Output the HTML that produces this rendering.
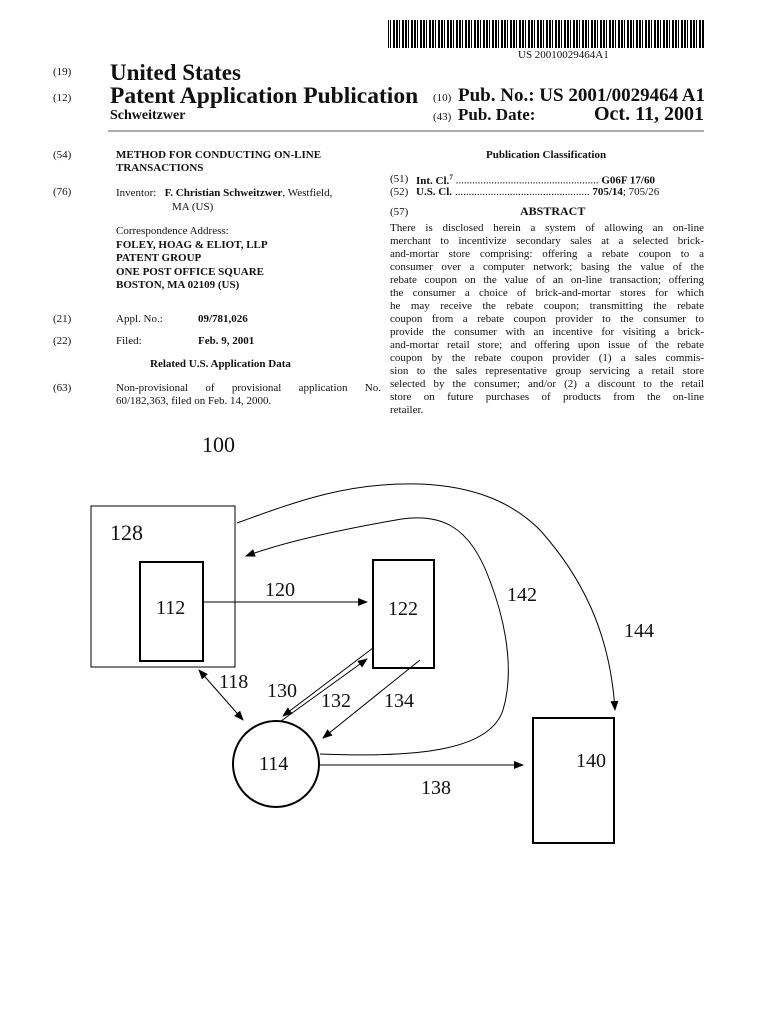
<!DOCTYPE html>
<html><head><meta charset="utf-8"><style>
body{margin:0;width:770px;height:1024px;background:#fff;position:relative;overflow:hidden;font-family:"Liberation Serif",serif;color:#111}
.a{position:absolute;white-space:nowrap}
.s{font-size:11px}
.j{position:absolute;left:390px;width:314px;font-size:11px;text-align:justify;text-align-last:justify;white-space:nowrap;height:12px;line-height:12px}
b{font-weight:bold}
</style></head><body>
<svg class="a" style="left:0;top:0" width="770" height="1024">
<g fill="#000">
<rect x="388" y="20" width="316" height="28" fill="url(#bc)"/>
</g>
<defs><pattern id="bc" width="9" height="28" patternUnits="userSpaceOnUse"><rect x="0" width="2" height="28" fill="#000"/><rect x="3" width="1" height="28" fill="#000"/><rect x="6" width="2" height="28" fill="#000"/></pattern>
<marker id="ar" markerWidth="10" markerHeight="8" refX="9" refY="4" orient="auto" markerUnits="userSpaceOnUse"><path d="M0,0 L10,4 L0,8 z" fill="#000"/></marker>
<marker id="as" markerWidth="10" markerHeight="8" refX="1" refY="4" orient="auto" markerUnits="userSpaceOnUse"><path d="M10,0 L0,4 L10,8 z" fill="#000"/></marker></defs>
<line x1="108" y1="131" x2="704" y2="131" stroke="#555" stroke-width="1"/>
<g fill="none" stroke="#000">
<rect x="91" y="506" width="144" height="161" stroke-width="1"/>
<rect x="140" y="562" width="63" height="99" stroke-width="2"/>
<rect x="373" y="560" width="61" height="108" stroke-width="2"/>
<circle cx="276" cy="764" r="43" stroke-width="2"/>
<rect x="533" y="718" width="81" height="125" stroke-width="2"/>
<line x1="204" y1="602" x2="367" y2="602" marker-end="url(#ar)"/>
<line x1="199" y1="670" x2="243" y2="720" marker-end="url(#ar)" marker-start="url(#as)"/>
<line x1="373" y1="648" x2="283" y2="716" marker-end="url(#ar)"/>
<line x1="281" y1="721" x2="367" y2="659" marker-end="url(#ar)"/>
<line x1="420" y1="660" x2="323" y2="738" marker-end="url(#ar)"/>
<line x1="320" y1="765" x2="523" y2="765" marker-end="url(#ar)"/>
<path d="M237,523 C300,500 350,482 420,484 C470,486 510,500 540,530 C580,575 610,630 615,710" marker-end="url(#ar)"/>
<path d="M320,754 C420,758 490,750 503,710 C515,670 505,620 490,581 C470,525 440,512 396,520 C350,528 290,540 246,556" marker-end="url(#ar)"/>
</g>
</svg>
<div class="a" style="left:518px;top:49px;font-size:11px">US 20010029464A1</div>
<div class="a" style="left:53px;top:66px;font-size:11px">(19)</div>
<div class="a" style="left:110px;top:60px;font-size:23px;font-weight:bold">United States</div>
<div class="a" style="left:53px;top:92px;font-size:11px">(12)</div>
<div class="a" style="left:110px;top:83px;font-size:23.5px;font-weight:bold">Patent Application Publication</div>
<div class="a" style="left:433px;top:92px;font-size:11px">(10)</div>
<div class="a" style="left:458px;top:85px;font-size:19px;font-weight:bold">Pub. No.: US 2001/0029464 A1</div>
<div class="a" style="left:110px;top:108px;font-size:14px;font-weight:bold">Schweitzwer</div>
<div class="a" style="left:433px;top:111px;font-size:11px">(43)</div>
<div class="a" style="left:458px;top:105px;font-size:17px;font-weight:bold">Pub. Date:</div>
<div class="a" style="left:594px;top:103px;font-size:20px;font-weight:bold">Oct. 11, 2001</div>

<div class="a s" style="left:53px;top:149px">(54)</div>
<div class="a s" style="left:116px;top:149px;line-height:13px"><b>METHOD FOR CONDUCTING ON-LINE<br>TRANSACTIONS</b></div>
<div class="a s" style="left:53px;top:186px">(76)</div>
<div class="a s" style="left:116px;top:186px;line-height:14px">Inventor:&nbsp;&nbsp; <b>F. Christian Schweitzwer</b>, Westfield,<br><span style="padding-left:56px">MA (US)</span></div>
<div class="a s" style="left:116px;top:225px;line-height:13.5px">Correspondence Address:<br><b>FOLEY, HOAG &amp; ELIOT, LLP<br>PATENT GROUP<br>ONE POST OFFICE SQUARE<br>BOSTON, MA 02109 (US)</b></div>
<div class="a s" style="left:53px;top:313px">(21)</div>
<div class="a s" style="left:116px;top:313px">Appl. No.:</div>
<div class="a s" style="left:198px;top:313px"><b>09/781,026</b></div>
<div class="a s" style="left:53px;top:335px">(22)</div>
<div class="a s" style="left:116px;top:335px">Filed:</div>
<div class="a s" style="left:198px;top:335px"><b>Feb. 9, 2001</b></div>
<div class="a s" style="left:150px;top:358px"><b>Related U.S. Application Data</b></div>
<div class="a s" style="left:53px;top:382px">(63)</div>
<div class="a s" style="left:116px;top:382px;width:265px;text-align:justify;text-align-last:justify">Non-provisional of provisional application No.</div>
<div class="a s" style="left:116px;top:395px">60/182,363, filed on Feb. 14, 2000.</div>

<div class="a s" style="left:486px;top:149px"><b>Publication Classification</b></div>
<div class="a s" style="left:390px;top:173px">(51)</div>
<div class="a s" style="left:416px;top:173px"><b>Int. Cl.<sup style="font-size:7px">7</sup></b> .................................................... <b>G06F 17/60</b></div>
<div class="a s" style="left:390px;top:186px">(52)</div>
<div class="a s" style="left:416px;top:186px"><b>U.S. Cl.</b> ................................................. <b>705/14</b>; 705/26</div>
<div class="a s" style="left:390px;top:206px">(57)</div>
<div class="a" style="left:520px;top:204px;font-size:12px"><b>ABSTRACT</b></div>
<div class="j" style="top:222px">There is disclosed herein a system of allowing an on-line</div>
<div class="j" style="top:235px">merchant to incentivize secondary sales at a selected brick-</div>
<div class="j" style="top:248px">and-mortar store comprising: offering a rebate coupon to a</div>
<div class="j" style="top:261px">consumer over a computer network; basing the value of the</div>
<div class="j" style="top:274px">rebate coupon on the value of an on-line transaction; offering</div>
<div class="j" style="top:287px">the consumer a choice of brick-and-mortar stores for which</div>
<div class="j" style="top:300px">he may receive the rebate coupon; transmitting the rebate</div>
<div class="j" style="top:313px">coupon from a rebate coupon provider to the consumer to</div>
<div class="j" style="top:326px">provide the consumer with an incentive for visiting a brick-</div>
<div class="j" style="top:339px">and-mortar retail store; and offering upon issue of the rebate</div>
<div class="j" style="top:352px">coupon by the rebate coupon provider (1) a sales commis-</div>
<div class="j" style="top:365px">sion to the sales representative group servicing a retail store</div>
<div class="j" style="top:378px">selected by the consumer; and/or (2) a discount to the retail</div>
<div class="j" style="top:391px">store on future purchases of products from the on-line</div>
<div class="a s" style="left:390px;top:404px">retailer.</div>

<div class="a" style="left:202px;top:432px;font-size:22px">100</div>
<div class="a" style="left:110px;top:520px;font-size:22px">128</div>
<div class="a" style="left:156px;top:597px;font-size:20px">112</div>
<div class="a" style="left:265px;top:579px;font-size:20px">120</div>
<div class="a" style="left:388px;top:598px;font-size:20px">122</div>
<div class="a" style="left:507px;top:584px;font-size:20px">142</div>
<div class="a" style="left:624px;top:620px;font-size:20px">144</div>
<div class="a" style="left:219px;top:671px;font-size:20px">118</div>
<div class="a" style="left:267px;top:680px;font-size:20px">130</div>
<div class="a" style="left:321px;top:690px;font-size:20px">132</div>
<div class="a" style="left:384px;top:690px;font-size:20px">134</div>
<div class="a" style="left:259px;top:753px;font-size:20px">114</div>
<div class="a" style="left:576px;top:750px;font-size:20px">140</div>
<div class="a" style="left:421px;top:777px;font-size:20px">138</div>
</body></html>
